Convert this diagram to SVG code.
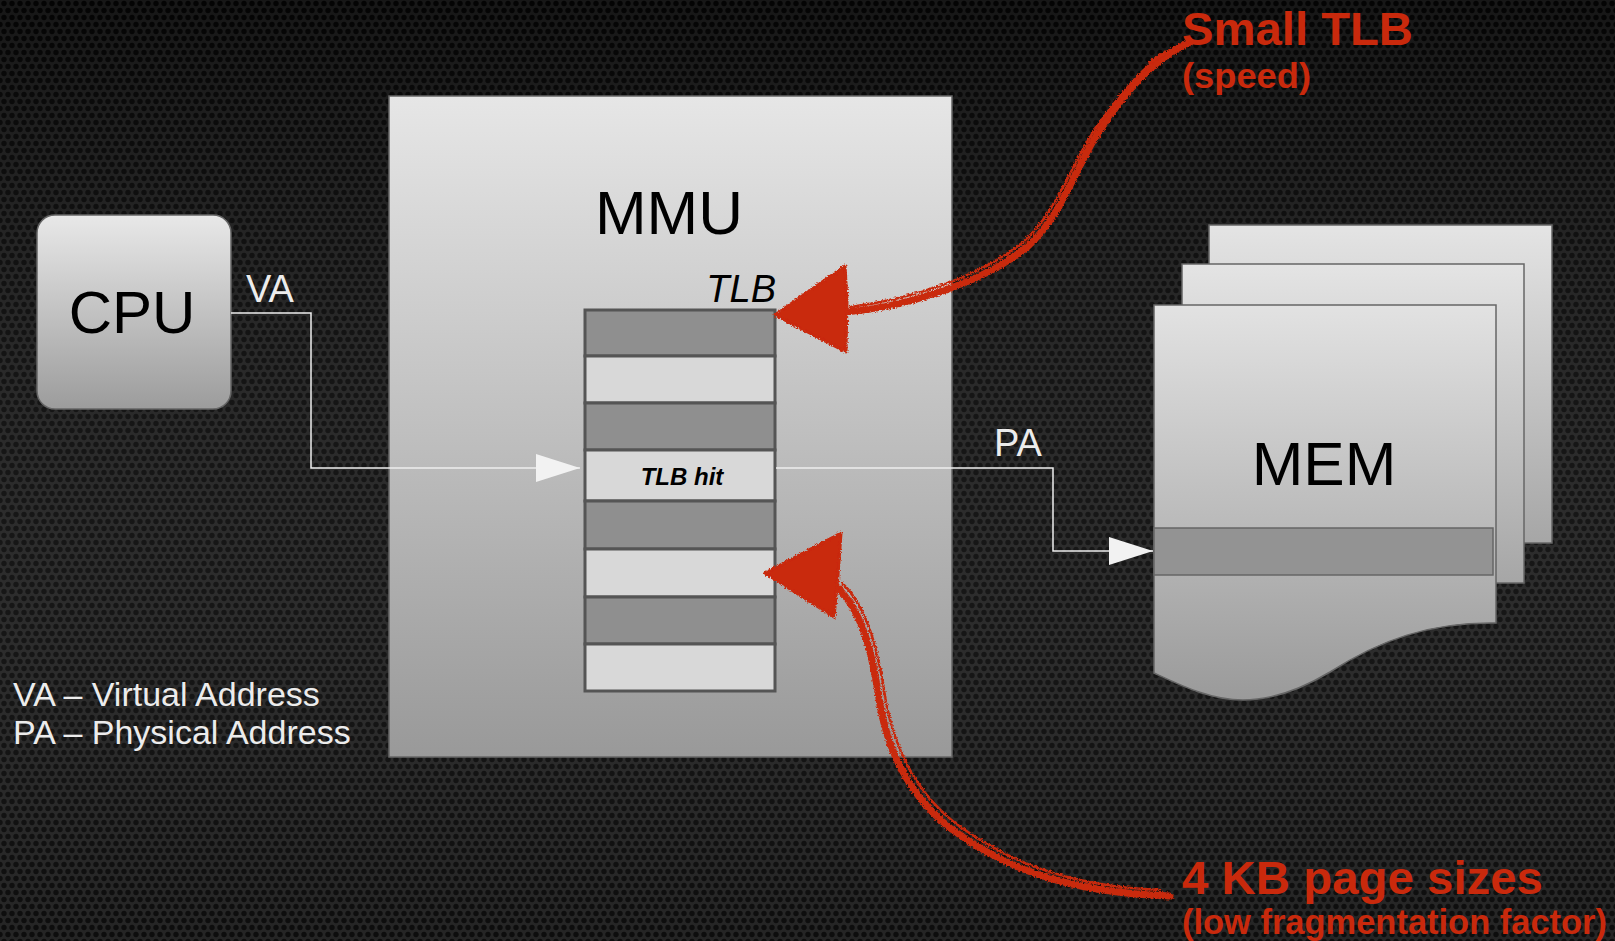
<svg xmlns="http://www.w3.org/2000/svg" width="1615" height="941" viewBox="0 0 1615 941">
<defs>
  <pattern id="perf" width="8" height="14" patternUnits="userSpaceOnUse">
    <rect width="8" height="14" fill="#1e1e1e"/>
    <circle cx="4" cy="3.5" r="2.7" fill="#050505"/>
    <circle cx="0" cy="10.5" r="2.7" fill="#050505"/>
    <circle cx="8" cy="10.5" r="2.7" fill="#050505"/>
  </pattern>
  <linearGradient id="bgshade" x1="0" y1="0" x2="0" y2="1">
    <stop offset="0" stop-color="#000" stop-opacity="0.25"/>
    <stop offset="1" stop-color="#fff" stop-opacity="0.03"/>
  </linearGradient>
  <linearGradient id="boxg" x1="0" y1="0" x2="0" y2="1">
    <stop offset="0" stop-color="#e6e6e6"/>
    <stop offset="1" stop-color="#999999"/>
  </linearGradient>
  <linearGradient id="cpug" x1="0" y1="0" x2="0" y2="1">
    <stop offset="0" stop-color="#e8e8e8"/>
    <stop offset="1" stop-color="#9c9c9c"/>
  </linearGradient>
  <linearGradient id="sheetg" x1="0" y1="0" x2="0" y2="1">
    <stop offset="0" stop-color="#e4e4e4"/>
    <stop offset="1" stop-color="#a6a6a6"/>
  </linearGradient>
  <linearGradient id="frontg" x1="0" y1="0" x2="0" y2="1">
    <stop offset="0" stop-color="#e2e2e2"/>
    <stop offset="1" stop-color="#9a9a9a"/>
  </linearGradient>
  <filter id="rough" x="-10%" y="-10%" width="120%" height="120%">
    <feTurbulence type="fractalNoise" baseFrequency="0.6" numOctaves="2" seed="3" result="n"/>
    <feDisplacementMap in="SourceGraphic" in2="n" scale="4" xChannelSelector="R" yChannelSelector="G"/>
  </filter>
  <marker id="wa" viewBox="0 0 44 28" refX="44" refY="14" markerWidth="44" markerHeight="28" markerUnits="userSpaceOnUse" orient="auto">
    <path d="M0,0 L44,14 L0,28 Z" fill="#f2f2f2"/>
  </marker>
  <style>
    .lbl { font-family: "Liberation Sans", Arial, sans-serif; fill: #000; }
    .wht { font-family: "Liberation Sans", Arial, sans-serif; fill: #ececec; }
    .red { font-family: "Liberation Sans", Arial, sans-serif; font-weight: bold; fill: #c9290c; }
    .box { stroke: #666; stroke-width: 1.5; }
    .dark { fill: #8f8f8f; stroke: #555; stroke-width: 3; }
    .light { fill: #d8d8d8; stroke: #555; stroke-width: 3; }
    .conn { fill: none; stroke: #eeeeee; stroke-width: 1.5; }
    .brush { fill: none; stroke: #c9290c; stroke-linecap: round; }
  </style>
</defs>

<rect width="1615" height="941" fill="url(#perf)"/>
<rect width="1615" height="941" fill="url(#bgshade)"/>

<g id="cpu">
  <rect x="37" y="215" width="194" height="194" rx="18" fill="url(#cpug)" class="box"/>
  <text x="132" y="333" class="lbl" font-size="60" text-anchor="middle">CPU</text>
</g>

<g id="mmu">
  <rect x="389" y="96" width="563" height="661" fill="url(#boxg)" class="box"/>
  <text x="669" y="234" class="lbl" font-size="62" text-anchor="middle">MMU</text>
</g>

<g id="tlb">
  <text x="776" y="302" class="lbl" font-size="38" font-style="italic" text-anchor="end">TLB</text>
  <rect x="585" y="310" width="190" height="46" class="dark"/>
  <rect x="585" y="356" width="190" height="47" class="light"/>
  <rect x="585" y="403" width="190" height="47" class="dark"/>
  <rect x="585" y="450" width="190" height="51" class="light"/>
  <rect x="585" y="501" width="190" height="48" class="dark"/>
  <rect x="585" y="549" width="190" height="48" class="light"/>
  <rect x="585" y="597" width="190" height="47" class="dark"/>
  <rect x="585" y="644" width="190" height="47" class="light"/>
  <text x="682" y="485" class="lbl" font-size="24" font-weight="bold" font-style="italic" text-anchor="middle">TLB hit</text>
</g>

<g id="mem">
  <rect x="1209" y="225" width="343" height="318" fill="url(#sheetg)" class="box"/>
  <rect x="1182" y="264" width="342" height="319" fill="url(#sheetg)" class="box"/>
  <path d="M1154,305 H1496 V623 C1430,622 1380,640 1330,672 C1300,690 1270,700 1243,700 C1210,700 1180,685 1154,673 Z" fill="url(#frontg)" class="box"/>
  <rect x="1154" y="528" width="339" height="47" fill="#939393" stroke="#666" stroke-width="1.5"/>
  <text x="1324" y="485" class="lbl" font-size="62" text-anchor="middle">MEM</text>
</g>

<g id="connectors">
  <path d="M231,313 H311 V468 H580" class="conn" marker-end="url(#wa)"/>
  <path d="M776,468 H1053 V551 H1153" class="conn" marker-end="url(#wa)"/>
  <text x="246" y="302" class="wht" font-size="38">VA</text>
  <text x="994" y="456" class="wht" font-size="38">PA</text>
</g>

<g id="red-arrow-tlb" filter="url(#rough)">
  <path d="M845,312 C900,308 980,285 1027,247 C1060,218 1075,170 1095,138 C1120,98 1150,60 1190,42" class="brush" stroke-width="7"/>
  <path d="M850,307 C905,300 975,280 1022,243 C1055,215 1070,168 1092,134 C1118,95 1150,58 1175,48" class="brush" stroke-width="2.5"/>
  <path d="M1150,62 C1165,52 1180,46 1195,42" class="brush" stroke-width="3.5"/>
  <path d="M775,315 L845,266 L847,300 L846,352 Z" fill="#c9290c" stroke="#c9290c" stroke-width="3" stroke-linejoin="round"/>
</g>

<g id="red-arrow-page" filter="url(#rough)">
  <path d="M835,585 C862,610 872,650 880,705 C890,760 915,800 950,828 C1000,865 1060,892 1170,896" class="brush" stroke-width="7"/>
  <path d="M842,583 C868,608 878,650 886,702 C896,755 920,795 955,823 C1005,860 1065,886 1160,890" class="brush" stroke-width="2.5"/>
  <path d="M765,573 L841,533 L838,575 L834,617 Z" fill="#c9290c" stroke="#c9290c" stroke-width="3" stroke-linejoin="round"/>
</g>

<g id="callouts">
  <text x="1182" y="45" class="red" font-size="47" textLength="231" lengthAdjust="spacingAndGlyphs">Small TLB</text>
  <text x="1182" y="88" class="red" font-size="35" textLength="129" lengthAdjust="spacingAndGlyphs">(speed)</text>
  <text x="1182" y="894" class="red" font-size="46" textLength="361" lengthAdjust="spacingAndGlyphs">4 KB page sizes</text>
  <text x="1182" y="934" class="red" font-size="35" textLength="425" lengthAdjust="spacingAndGlyphs">(low fragmentation factor)</text>
</g>

<g id="legend">
  <text x="13" y="706" class="wht" font-size="34">VA – Virtual Address</text>
  <text x="13" y="744" class="wht" font-size="34">PA – Physical Address</text>
</g>
</svg>
